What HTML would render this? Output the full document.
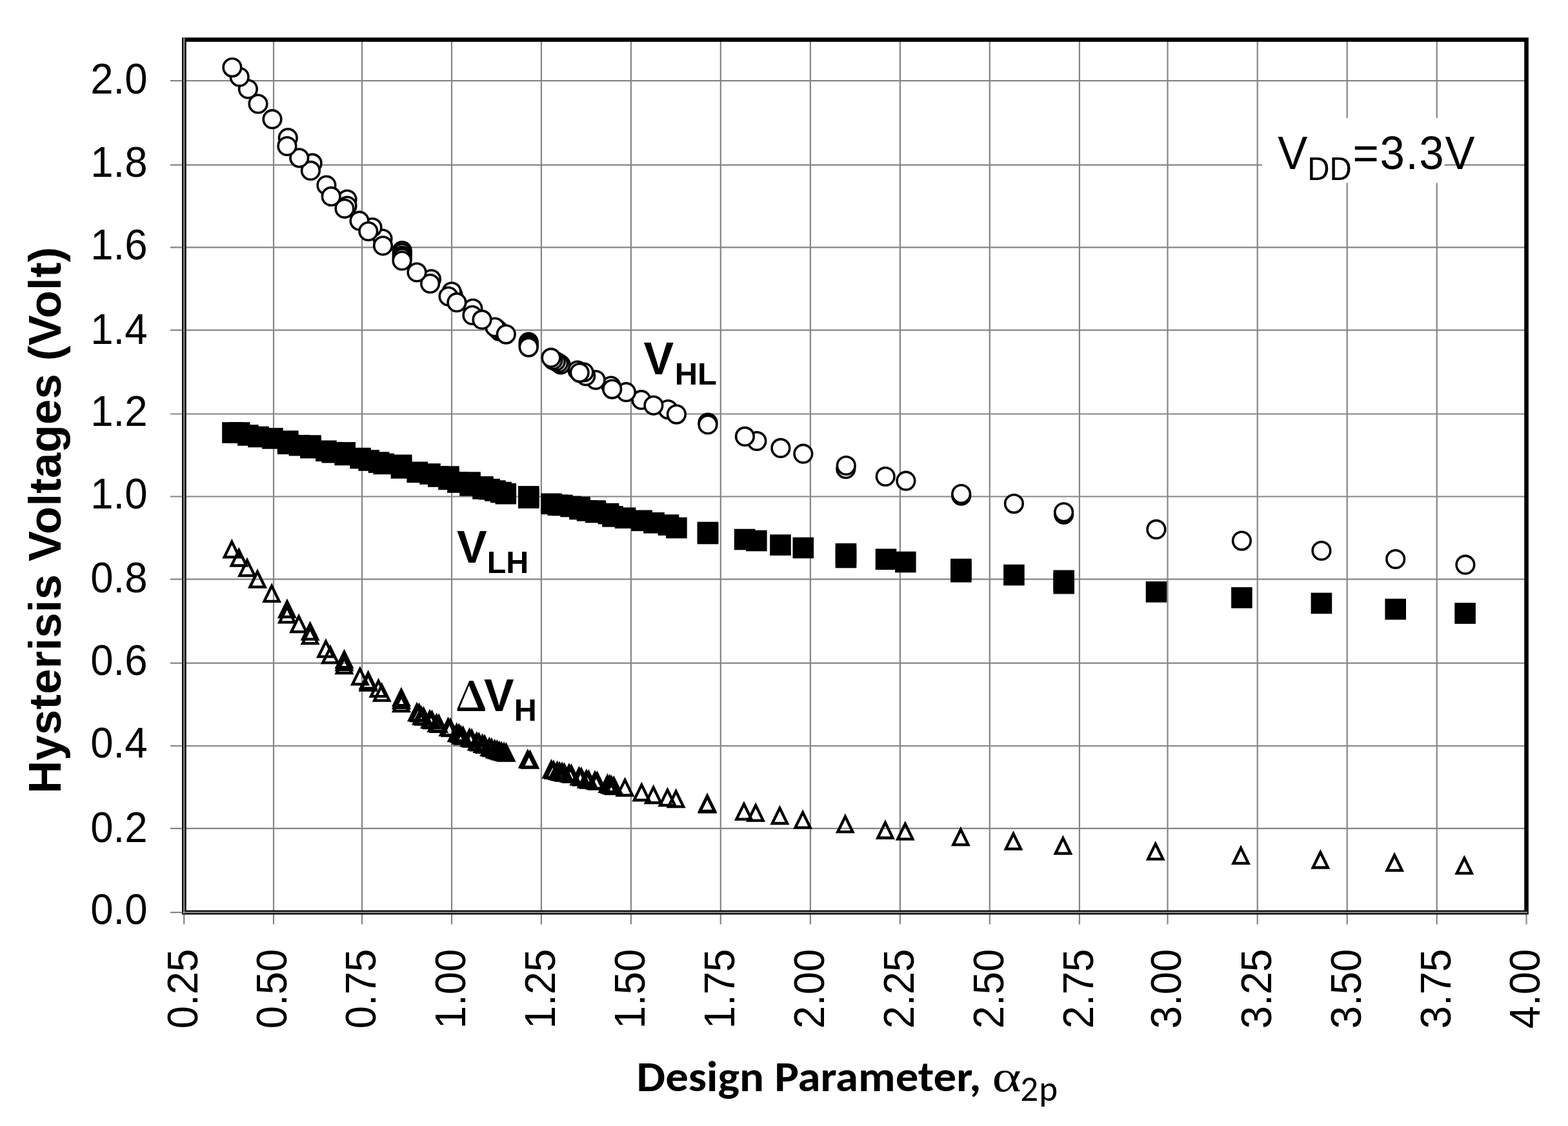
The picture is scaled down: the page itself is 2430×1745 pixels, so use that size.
<!DOCTYPE html>
<html><head><meta charset="utf-8"><title>Hysteresis Voltages vs Design Parameter</title>
<style>
html,body{margin:0;padding:0;background:#fff;}
svg{display:block;}
text{fill:#000;}
.ax{font-family:"Liberation Sans",Arial,sans-serif;font-size:63.5px;}
.ttl{font-family:"Liberation Sans",Arial,sans-serif;font-weight:bold;}
.cal{font-family:Carlito,Calibri,"Liberation Sans",sans-serif;}
</style></head><body>
<svg xmlns="http://www.w3.org/2000/svg" width="2430" height="1745" viewBox="0 0 2430 1745">
<rect x="0" y="0" width="2430" height="1745" fill="#fff"/>
<g stroke="#858585" stroke-width="2.2" fill="none"><line x1="424.00" y1="61.5" x2="424.00" y2="1432.5"/><line x1="561.00" y1="61.5" x2="561.00" y2="1432.5"/><line x1="700.00" y1="61.5" x2="700.00" y2="1432.5"/><line x1="838.90" y1="61.5" x2="838.90" y2="1432.5"/><line x1="977.90" y1="61.5" x2="977.90" y2="1432.5"/><line x1="1116.80" y1="61.5" x2="1116.80" y2="1432.5"/><line x1="1255.90" y1="61.5" x2="1255.90" y2="1432.5"/><line x1="1394.90" y1="61.5" x2="1394.90" y2="1432.5"/><line x1="1533.80" y1="61.5" x2="1533.80" y2="1432.5"/><line x1="1672.90" y1="61.5" x2="1672.90" y2="1432.5"/><line x1="1809.50" y1="61.5" x2="1809.50" y2="1432.5"/><line x1="1948.70" y1="61.5" x2="1948.70" y2="1432.5"/><line x1="2087.70" y1="61.5" x2="2087.70" y2="1432.5"/><line x1="2226.70" y1="61.5" x2="2226.70" y2="1432.5"/><line x1="264" y1="1283.80" x2="2365.5" y2="1283.80"/><line x1="264" y1="1156.00" x2="2365.5" y2="1156.00"/><line x1="264" y1="1027.60" x2="2365.5" y2="1027.60"/><line x1="264" y1="897.60" x2="2365.5" y2="897.60"/><line x1="264" y1="769.50" x2="2365.5" y2="769.50"/><line x1="264" y1="641.50" x2="2365.5" y2="641.50"/><line x1="264" y1="511.70" x2="2365.5" y2="511.70"/><line x1="264" y1="383.30" x2="2365.5" y2="383.30"/><line x1="264" y1="255.60" x2="2365.5" y2="255.60"/><line x1="264" y1="125.20" x2="2365.5" y2="125.20"/><line x1="264" y1="1414.0" x2="285.3" y2="1414.0"/><line x1="285.2" y1="1414" x2="285.2" y2="1432.5"/><line x1="2365.55" y1="1414" x2="2365.55" y2="1432.5"/></g>
<rect x="1956" y="183" width="282.6" height="100.5" fill="#fff"/>
<rect x="285.35" y="61.5" width="2080.2" height="1352.5" fill="none" stroke="#000" stroke-width="6.6"/>
<g stroke="#858585" stroke-width="2.5"><line x1="285.2" y1="58.5" x2="285.2" y2="1416"/><line x1="283" y1="1414.0" x2="2367" y2="1414.0"/></g>
<g class="ax"><text transform="translate(228.5,1432.40) scale(1,1.04)" text-anchor="end">0.0</text><text transform="translate(228.5,1304.60) scale(1,1.04)" text-anchor="end">0.2</text><text transform="translate(228.5,1174.30) scale(1,1.04)" text-anchor="end">0.4</text><text transform="translate(228.5,1046.20) scale(1,1.04)" text-anchor="end">0.6</text><text transform="translate(228.5,918.00) scale(1,1.04)" text-anchor="end">0.8</text><text transform="translate(228.5,787.90) scale(1,1.04)" text-anchor="end">1.0</text><text transform="translate(228.5,660.30) scale(1,1.04)" text-anchor="end">1.2</text><text transform="translate(228.5,532.60) scale(1,1.04)" text-anchor="end">1.4</text><text transform="translate(228.5,401.90) scale(1,1.04)" text-anchor="end">1.6</text><text transform="translate(228.5,273.80) scale(1,1.04)" text-anchor="end">1.8</text><text transform="translate(228.5,145.40) scale(1,1.04)" text-anchor="end">2.0</text><text transform="translate(305.50,1470.6) rotate(-90) scale(1,1.04)" text-anchor="end">0.25</text><text transform="translate(444.10,1470.6) rotate(-90) scale(1,1.04)" text-anchor="end">0.50</text><text transform="translate(582.00,1470.6) rotate(-90) scale(1,1.04)" text-anchor="end">0.75</text><text transform="translate(720.60,1470.6) rotate(-90) scale(1,1.04)" text-anchor="end">1.00</text><text transform="translate(859.60,1470.6) rotate(-90) scale(1,1.04)" text-anchor="end">1.25</text><text transform="translate(998.60,1470.6) rotate(-90) scale(1,1.04)" text-anchor="end">1.50</text><text transform="translate(1137.60,1470.6) rotate(-90) scale(1,1.04)" text-anchor="end">1.75</text><text transform="translate(1276.60,1470.6) rotate(-90) scale(1,1.04)" text-anchor="end">2.00</text><text transform="translate(1415.60,1470.6) rotate(-90) scale(1,1.04)" text-anchor="end">2.25</text><text transform="translate(1554.60,1470.6) rotate(-90) scale(1,1.04)" text-anchor="end">2.50</text><text transform="translate(1693.60,1470.6) rotate(-90) scale(1,1.04)" text-anchor="end">2.75</text><text transform="translate(1830.30,1470.6) rotate(-90) scale(1,1.04)" text-anchor="end">3.00</text><text transform="translate(1969.60,1470.6) rotate(-90) scale(1,1.04)" text-anchor="end">3.25</text><text transform="translate(2108.50,1470.6) rotate(-90) scale(1,1.04)" text-anchor="end">3.50</text><text transform="translate(2247.60,1470.6) rotate(-90) scale(1,1.04)" text-anchor="end">3.75</text><text transform="translate(2386.30,1470.6) rotate(-90) scale(1,1.04)" text-anchor="end">4.00</text></g>
<text class="ttl" font-size="70.5" letter-spacing="0.29" transform="translate(94,1229.8) rotate(-90)">Hysterisis Voltages (Volt)</text>
<text class="cal" x="986.5" y="1690.6" font-size="66" font-weight="bold" textLength="534" lengthAdjust="spacingAndGlyphs">Design Parameter,</text>
<text transform="translate(1537.5,1690.6) scale(1.28,1)" font-family="Liberation Serif,serif" font-size="67.5">α</text>
<text class="cal" x="1581.3" y="1706.2" font-size="55" letter-spacing="1.2">2p</text>
<text transform="translate(1980.3,262.4) scale(1,1.045)" font-family="Liberation Sans,Arial,sans-serif" font-size="69">V<tspan font-size="47.5" dy="15.6">DD</tspan><tspan dy="-15.6" letter-spacing="1.7" dx="1.5">=3.3V</tspan></text>
<text class="ttl" x="997.5" y="580.4" font-size="70">V<tspan font-size="49" dy="15.6" dx="1.5">HL</tspan></text>
<text class="ttl" x="708" y="871.8" font-size="70">V<tspan font-size="48.5" dy="15.8">LH</tspan></text>
<text transform="translate(705.2,1101.5) scale(1.11,1)" font-family="Noto Serif CJK SC,Liberation Serif,serif" font-weight="bold" font-size="63.5">Δ</text>
<text class="ttl" x="750" y="1101.5" font-size="70">V<tspan font-size="48.5" dy="15.2">H</tspan></text>
<g fill="#000"><rect x="344.1" y="654.2" width="32.6" height="32.6"/><rect x="354.8" y="654.2" width="32.6" height="32.6"/><rect x="368.1" y="658.2" width="32.6" height="32.6"/><rect x="384.2" y="660.7" width="32.6" height="32.6"/><rect x="406.1" y="663.1" width="32.6" height="32.6"/><rect x="429.9" y="667.3" width="32.6" height="32.6"/><rect x="429.9" y="671.5" width="32.6" height="32.6"/><rect x="447.6" y="673.9" width="32.6" height="32.6"/><rect x="465.1" y="674.3" width="32.6" height="32.6"/><rect x="465.1" y="677.8" width="32.6" height="32.6"/><rect x="489.1" y="682.5" width="32.6" height="32.6"/><rect x="498.5" y="684.9" width="32.6" height="32.6"/><rect x="518.4" y="685.1" width="32.6" height="32.6"/><rect x="518.4" y="688.7" width="32.6" height="32.6"/><rect x="542.2" y="693.8" width="32.6" height="32.6"/><rect x="555.4" y="697.2" width="32.6" height="32.6"/><rect x="570.7" y="700.3" width="32.6" height="32.6"/><rect x="578.4" y="702.6" width="32.6" height="32.6"/><rect x="605.9" y="704.5" width="32.6" height="32.6"/><rect x="605.7" y="709.1" width="32.6" height="32.6"/><rect x="630.4" y="715.5" width="32.6" height="32.6"/><rect x="650.2" y="718.2" width="32.6" height="32.6"/><rect x="663.0" y="722.2" width="32.6" height="32.6"/><rect x="679.1" y="722.3" width="32.6" height="32.6"/><rect x="679.2" y="726.6" width="32.6" height="32.6"/><rect x="693.1" y="731.2" width="32.6" height="32.6"/><rect x="712.2" y="731.3" width="32.6" height="32.6"/><rect x="712.2" y="736.1" width="32.6" height="32.6"/><rect x="732.2" y="738.1" width="32.6" height="32.6"/><rect x="732.2" y="741.2" width="32.6" height="32.6"/><rect x="742.2" y="741.9" width="32.6" height="32.6"/><rect x="751.1" y="744.3" width="32.6" height="32.6"/><rect x="760.2" y="746.7" width="32.6" height="32.6"/><rect x="767.5" y="748.9" width="32.6" height="32.6"/><rect x="803.0" y="753.1" width="32.6" height="32.6"/><rect x="803.0" y="755.3" width="32.6" height="32.6"/><rect x="838.2" y="764.5" width="32.6" height="32.6"/><rect x="848.5" y="766.5" width="32.6" height="32.6"/><rect x="855.1" y="766.7" width="32.6" height="32.6"/><rect x="868.3" y="768.7" width="32.6" height="32.6"/><rect x="882.2" y="769.7" width="32.6" height="32.6"/><rect x="882.2" y="772.7" width="32.6" height="32.6"/><rect x="893.8" y="775.1" width="32.6" height="32.6"/><rect x="906.2" y="775.3" width="32.6" height="32.6"/><rect x="906.9" y="777.7" width="32.6" height="32.6"/><rect x="926.7" y="779.8" width="32.6" height="32.6"/><rect x="933.2" y="784.1" width="32.6" height="32.6"/><rect x="952.7" y="786.4" width="32.6" height="32.6"/><rect x="978.3" y="790.5" width="32.6" height="32.6"/><rect x="997.2" y="794.0" width="32.6" height="32.6"/><rect x="1019.7" y="797.3" width="32.6" height="32.6"/><rect x="1032.1" y="801.7" width="32.6" height="32.6"/><rect x="1080.7" y="808.7" width="32.6" height="32.6"/><rect x="1080.7" y="810.7" width="32.6" height="32.6"/><rect x="1137.8" y="819.7" width="32.6" height="32.6"/><rect x="1156.0" y="821.7" width="32.6" height="32.6"/><rect x="1193.2" y="828.3" width="32.6" height="32.6"/><rect x="1228.5" y="832.7" width="32.6" height="32.6"/><rect x="1294.7" y="842.0" width="32.6" height="32.6"/><rect x="1294.7" y="847.7" width="32.6" height="32.6"/><rect x="1356.7" y="850.4" width="32.6" height="32.6"/><rect x="1387.0" y="854.7" width="32.6" height="32.6"/><rect x="1473.1" y="865.8" width="32.6" height="32.6"/><rect x="1473.1" y="869.9" width="32.6" height="32.6"/><rect x="1555.1" y="874.8" width="32.6" height="32.6"/><rect x="1632.4" y="883.5" width="32.6" height="32.6"/><rect x="1632.4" y="887.9" width="32.6" height="32.6"/><rect x="1775.7" y="901.0" width="32.6" height="32.6"/><rect x="1908.1" y="910.0" width="32.6" height="32.6"/><rect x="2031.6" y="918.6" width="32.6" height="32.6"/><rect x="2146.4" y="927.8" width="32.6" height="32.6"/><rect x="2254.3" y="934.2" width="32.6" height="32.6"/></g>
<g fill="none" stroke="#000" stroke-width="4.3" stroke-linejoin="miter" stroke-miterlimit="10"><path d="M359.3 839.6L370.9 863.3L347.7 863.3Z"/><path d="M370.3 852.8L381.9 876.5L358.7 876.5Z"/><path d="M383.0 868.4L394.6 892.1L371.4 892.1Z"/><path d="M399.0 886.0L410.6 909.7L387.4 909.7Z"/><path d="M421.1 908.1L432.7 931.8L409.5 931.8Z"/><path d="M444.9 932.3L456.5 956.0L433.3 956.0Z"/><path d="M444.9 940.6L456.5 964.3L433.3 964.3Z"/><path d="M463.1 955.5L474.7 979.2L451.5 979.2Z"/><path d="M480.6 967.0L492.2 990.7L469.0 990.7Z"/><path d="M480.6 973.4L492.2 997.1L469.0 997.1Z"/><path d="M505.0 994.0L516.6 1017.7L493.4 1017.7Z"/><path d="M511.9 1003.5L523.5 1027.2L500.3 1027.2Z"/><path d="M533.5 1010.5L545.1 1034.2L521.9 1034.2Z"/><path d="M533.5 1014.5L545.1 1038.2L521.9 1038.2Z"/><path d="M533.5 1019.5L545.1 1043.2L521.9 1043.2Z"/><path d="M557.9 1036.8L569.5 1060.4L546.3 1060.4Z"/><path d="M570.6 1043.0L582.2 1066.7L559.0 1066.7Z"/><path d="M570.6 1046.0L582.2 1069.7L559.0 1069.7Z"/><path d="M586.5 1055.5L598.1 1079.2L574.9 1079.2Z"/><path d="M591.7 1062.0L603.3 1085.7L580.1 1085.7Z"/><path d="M621.9 1069.5L633.5 1093.2L610.3 1093.2Z"/><path d="M621.9 1073.5L633.5 1097.2L610.3 1097.2Z"/><path d="M621.9 1078.5L633.5 1102.2L610.3 1102.2Z"/><path d="M646.0 1092.5L657.6 1116.2L634.4 1116.2Z"/><path d="M653.0 1098.0L664.6 1121.7L641.4 1121.7Z"/><path d="M666.0 1103.5L677.6 1127.2L654.4 1127.2Z"/><path d="M676.5 1109.1L688.1 1132.8L664.9 1132.8Z"/><path d="M694.5 1115.5L706.1 1139.2L682.9 1139.2Z"/><path d="M707.7 1124.2L719.3 1147.9L696.1 1147.9Z"/><path d="M714.0 1127.8L725.6 1151.5L702.4 1151.5Z"/><path d="M727.5 1132.0L739.1 1155.7L715.9 1155.7Z"/><path d="M738.7 1137.8L750.3 1161.4L727.1 1161.4Z"/><path d="M747.5 1141.1L759.1 1164.8L735.9 1164.8Z"/><path d="M758.3 1146.5L769.9 1170.2L746.7 1170.2Z"/><path d="M766.7 1149.6L778.3 1173.3L755.1 1173.3Z"/><path d="M773.6 1152.0L785.2 1175.6L762.0 1175.6Z"/><path d="M781.0 1154.0L792.6 1177.7L769.4 1177.7Z"/><path d="M817.8 1165.0L829.4 1188.6L806.2 1188.6Z"/><path d="M854.4 1181.0L866.0 1204.7L842.8 1204.7Z"/><path d="M863.6 1183.2L875.2 1206.9L852.0 1206.9Z"/><path d="M871.0 1185.0L882.6 1208.7L859.4 1208.7Z"/><path d="M881.9 1187.0L893.5 1210.7L870.3 1210.7Z"/><path d="M897.4 1191.6L909.0 1215.3L885.8 1215.3Z"/><path d="M908.8 1196.0L920.4 1219.7L897.2 1219.7Z"/><path d="M922.0 1198.0L933.6 1221.6L910.4 1221.6Z"/><path d="M941.5 1203.1L953.1 1226.8L929.9 1226.8Z"/><path d="M947.8 1205.5L959.4 1229.1L936.2 1229.1Z"/><path d="M968.5 1208.8L980.1 1232.5L956.9 1232.5Z"/><path d="M994.3 1216.3L1005.9 1240.0L982.7 1240.0Z"/><path d="M1012.6 1220.3L1024.2 1244.0L1001.0 1244.0Z"/><path d="M1034.4 1224.3L1046.0 1248.0L1022.8 1248.0Z"/><path d="M1047.6 1226.5L1059.2 1250.2L1036.0 1250.2Z"/><path d="M1096.1 1234.8L1107.7 1258.4L1084.5 1258.4Z"/><path d="M1096.1 1233.1L1107.7 1256.8L1084.5 1256.8Z"/><path d="M1152.9 1246.0L1164.5 1269.6L1141.3 1269.6Z"/><path d="M1171.1 1248.0L1182.7 1271.6L1159.5 1271.6Z"/><path d="M1208.4 1252.3L1220.0 1276.0L1196.8 1276.0Z"/><path d="M1244.1 1259.0L1255.7 1282.6L1232.5 1282.6Z"/><path d="M1309.9 1265.5L1321.5 1289.2L1298.3 1289.2Z"/><path d="M1371.9 1274.8L1383.5 1298.5L1360.3 1298.5Z"/><path d="M1402.8 1276.8L1414.4 1300.4L1391.2 1300.4Z"/><path d="M1488.9 1285.5L1500.5 1309.2L1477.3 1309.2Z"/><path d="M1570.4 1292.0L1582.0 1315.6L1558.8 1315.6Z"/><path d="M1647.4 1299.0L1659.0 1322.7L1635.8 1322.7Z"/><path d="M1790.7 1307.8L1802.3 1331.4L1779.1 1331.4Z"/><path d="M1923.0 1314.1L1934.6 1337.8L1911.4 1337.8Z"/><path d="M2046.3 1320.8L2057.9 1344.5L2034.7 1344.5Z"/><path d="M2161.1 1325.2L2172.7 1348.9L2149.5 1348.9Z"/><path d="M2269.3 1329.8L2280.9 1353.4L2257.7 1353.4Z"/><path d="M649.5 1093.5L661.1 1117.2L637.9 1117.2Z"/><path d="M656.5 1099.0L668.1 1122.7L644.9 1122.7Z"/><path d="M669.5 1104.5L681.1 1128.2L657.9 1128.2Z"/><path d="M680.0 1110.1L691.6 1133.8L668.4 1133.8Z"/><path d="M698.0 1116.5L709.6 1140.2L686.4 1140.2Z"/><path d="M711.2 1125.2L722.8 1148.9L699.6 1148.9Z"/><path d="M717.5 1128.8L729.1 1152.5L705.9 1152.5Z"/><path d="M731.0 1133.0L742.6 1156.7L719.4 1156.7Z"/><path d="M742.2 1138.8L753.8 1162.4L730.6 1162.4Z"/><path d="M751.0 1142.1L762.6 1165.8L739.4 1165.8Z"/><path d="M761.8 1147.5L773.4 1171.2L750.2 1171.2Z"/><path d="M770.2 1150.6L781.8 1174.3L758.6 1174.3Z"/><path d="M777.1 1153.0L788.7 1176.6L765.5 1176.6Z"/><path d="M784.5 1155.0L796.1 1178.7L772.9 1178.7Z"/><path d="M821.3 1166.0L832.9 1189.6L809.7 1189.6Z"/><path d="M857.9 1182.0L869.5 1205.7L846.3 1205.7Z"/><path d="M867.1 1184.2L878.7 1207.9L855.5 1207.9Z"/><path d="M874.5 1186.0L886.1 1209.7L862.9 1209.7Z"/><path d="M885.4 1188.0L897.0 1211.7L873.8 1211.7Z"/><path d="M900.9 1192.6L912.5 1216.3L889.3 1216.3Z"/><path d="M912.3 1197.0L923.9 1220.7L900.7 1220.7Z"/><path d="M925.5 1199.0L937.1 1222.6L913.9 1222.6Z"/><path d="M945.0 1204.1L956.6 1227.8L933.4 1227.8Z"/><path d="M951.3 1206.5L962.9 1230.1L939.7 1230.1Z"/></g>
<g fill="#fff" stroke="#000" stroke-width="3.6"><circle cx="1648.6" cy="797.3" r="13.8"/><circle cx="1489.7" cy="768.2" r="13.8"/><circle cx="1310.8" cy="726.7" r="13.8"/><circle cx="1097.0" cy="655.0" r="13.8"/><circle cx="1035.2" cy="634.6" r="13.8"/><circle cx="993.9" cy="619.7" r="13.8"/><circle cx="946.9" cy="598.0" r="13.8"/><circle cx="923.2" cy="588.8" r="13.8"/><circle cx="907.7" cy="582.8" r="13.8"/><circle cx="905.0" cy="577.0" r="13.8"/><circle cx="895.0" cy="574.0" r="13.8"/><circle cx="869.0" cy="565.0" r="13.8"/><circle cx="865.6" cy="562.5" r="13.8"/><circle cx="861.3" cy="560.0" r="13.8"/><circle cx="857.0" cy="558.0" r="13.8"/><circle cx="819.2" cy="530.0" r="13.8"/><circle cx="819.2" cy="533.0" r="13.8"/><circle cx="819.2" cy="536.0" r="13.8"/><circle cx="774.0" cy="513.4" r="13.8"/><circle cx="770.6" cy="510.0" r="13.8"/><circle cx="767.0" cy="507.0" r="13.8"/><circle cx="732.8" cy="478.0" r="13.8"/><circle cx="731.9" cy="488.5" r="13.8"/><circle cx="702.0" cy="457.0" r="13.8"/><circle cx="700.0" cy="452.0" r="13.8"/><circle cx="695.0" cy="459.3" r="13.8"/><circle cx="668.4" cy="432.6" r="13.8"/><circle cx="623.2" cy="388.6" r="13.8"/><circle cx="623.2" cy="392.0" r="13.8"/><circle cx="623.2" cy="396.3" r="13.8"/><circle cx="623.2" cy="399.7" r="13.8"/><circle cx="593.0" cy="370.0" r="13.8"/><circle cx="577.0" cy="352.5" r="13.8"/><circle cx="557.0" cy="342.2" r="13.8"/><circle cx="538.0" cy="309.0" r="13.8"/><circle cx="538.0" cy="319.0" r="13.8"/><circle cx="505.9" cy="287.0" r="13.8"/><circle cx="484.1" cy="252.9" r="13.8"/><circle cx="446.3" cy="213.7" r="13.8"/><circle cx="2270.9" cy="875.2" r="13.8"/><circle cx="2162.7" cy="866.5" r="13.8"/><circle cx="2047.9" cy="853.5" r="13.8"/><circle cx="1924.4" cy="838.1" r="13.8"/><circle cx="1791.9" cy="820.4" r="13.8"/><circle cx="1648.6" cy="793.8" r="13.8"/><circle cx="1571.4" cy="780.6" r="13.8"/><circle cx="1489.7" cy="765.6" r="13.8"/><circle cx="1403.9" cy="745.2" r="13.8"/><circle cx="1372.2" cy="738.5" r="13.8"/><circle cx="1311.3" cy="721.5" r="13.8"/><circle cx="1244.8" cy="703.2" r="13.8"/><circle cx="1209.9" cy="694.4" r="13.8"/><circle cx="1172.9" cy="683.5" r="13.8"/><circle cx="1154.4" cy="676.4" r="13.8"/><circle cx="1097.0" cy="658.0" r="13.8"/><circle cx="1048.4" cy="642.1" r="13.8"/><circle cx="1012.9" cy="628.3" r="13.8"/><circle cx="970.4" cy="607.7" r="13.8"/><circle cx="948.7" cy="603.1" r="13.8"/><circle cx="898.2" cy="577.6" r="13.8"/><circle cx="854.0" cy="554.4" r="13.8"/><circle cx="819.2" cy="538.1" r="13.8"/><circle cx="784.3" cy="518.1" r="13.8"/><circle cx="747.0" cy="495.4" r="13.8"/><circle cx="707.9" cy="468.7" r="13.8"/><circle cx="666.6" cy="439.5" r="13.8"/><circle cx="646.0" cy="422.0" r="13.8"/><circle cx="623.0" cy="404.0" r="13.8"/><circle cx="593.5" cy="380.8" r="13.8"/><circle cx="570.8" cy="358.5" r="13.8"/><circle cx="534.0" cy="323.3" r="13.8"/><circle cx="513.2" cy="304.4" r="13.8"/><circle cx="481.4" cy="264.4" r="13.8"/><circle cx="463.8" cy="244.8" r="13.8"/><circle cx="444.9" cy="226.5" r="13.8"/><circle cx="422.0" cy="184.7" r="13.8"/><circle cx="400.0" cy="161.0" r="13.8"/><circle cx="384.4" cy="138.0" r="13.8"/><circle cx="371.2" cy="119.3" r="13.8"/><circle cx="359.9" cy="104.6" r="13.8"/></g>
</svg></body></html>
